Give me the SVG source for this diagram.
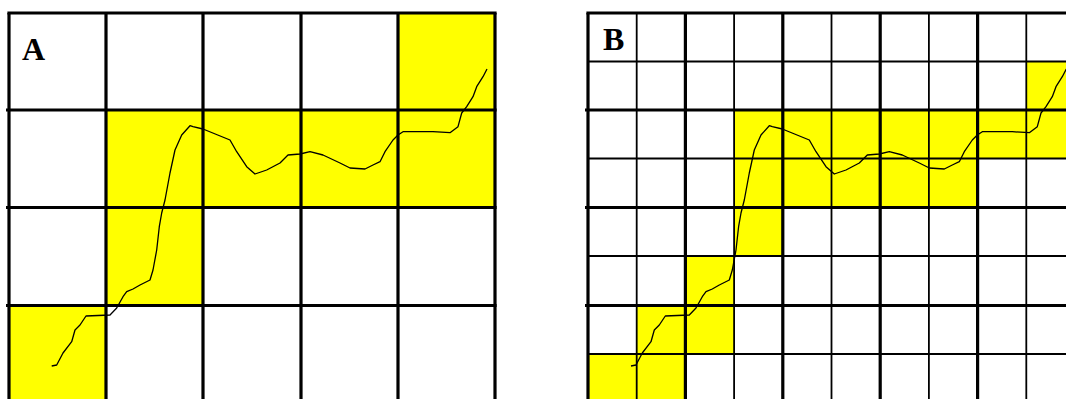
<svg xmlns="http://www.w3.org/2000/svg" xmlns:xlink="http://www.w3.org/1999/xlink" width="1066" height="399" viewBox="0 0 1066 399">
<style>
.y{fill:#FFFF00}
.thick{stroke:#000;stroke-width:3.2;fill:none}
.thin{stroke:#000;stroke-width:1.8;fill:none}
.curve{stroke:#000;stroke-width:1.3;fill:none;stroke-linejoin:round}
.lbl{font-family:"Liberation Serif","Times New Roman",serif;font-weight:bold;font-size:32px;fill:#000}
</style>
<defs>
<path id="curve" class="curve" d="M51.7,366 L56.7,365 L63,353 L71.7,341.7 L75,330 L80,325 L86,316 L110,315 L116.7,308 L123,296.7 L126.7,291.7 L133,289 L140,285 L150,280 L153,270 L156.7,250 L159.3,226.7 L161.7,213 L165,200 L170,173 L175,150 L181.7,135 L190,125.7 L193,126.7 L203,129 L230,140 L236.7,151.7 L246.7,166.7 L255,174 L266.7,170 L280,163 L288,155 L300,154 L310,151.7 L323,155 L340,163 L350,168 L365,169 L373,165 L380,161.7 L385,151.7 L393,140 L398,135 L403,131.7 L433,131.7 L450,132.7 L458,126.7 L461.7,113 L466.7,106.7 L473,96.7 L476.7,86.7 L483,76.7 L487,69"/>
</defs>
<rect width="1066" height="399" fill="#fff"/>
<g id="panel-a">
<g id="a-fills">
<rect class="y" x="398" y="13" width="97" height="97"/>
<rect class="y" x="106" y="110" width="389" height="97.5"/>
<rect class="y" x="106" y="207.5" width="97" height="98"/>
<rect class="y" x="9" y="305.5" width="97" height="100"/>
</g>
<use xlink:href="#curve"/>
<g id="a-grid" class="thick">
<line x1="9" y1="13" x2="9" y2="405"/>
<line x1="106" y1="13" x2="106" y2="405"/>
<line x1="203" y1="13" x2="203" y2="405"/>
<line x1="301" y1="13" x2="301" y2="405"/>
<line x1="398" y1="13" x2="398" y2="405"/>
<line x1="495" y1="13" x2="495" y2="405"/>
<line x1="7.4" y1="13" x2="496.6" y2="13"/>
<line x1="6" y1="110" x2="496.6" y2="110"/>
<line x1="6" y1="207.5" x2="496.6" y2="207.5"/>
<line x1="6" y1="305.5" x2="496.6" y2="305.5"/>
</g>
<text class="lbl" x="22" y="60">A</text>
</g>
<g id="panel-b">
<g id="b-fills">
<rect class="y" x="1026.3" y="61.5" width="50" height="48.5"/>
<rect class="y" x="734.1" y="110" width="342" height="48.5"/>
<rect class="y" x="734.1" y="158.5" width="243.5" height="49"/>
<rect class="y" x="734.1" y="207.5" width="48.7" height="48.5"/>
<rect class="y" x="685.4" y="256" width="48.7" height="49.5"/>
<rect class="y" x="636.7" y="305.5" width="97.4" height="48.5"/>
<rect class="y" x="588" y="354" width="97.4" height="50"/>
</g>
<use xlink:href="#curve" transform="translate(579.3,0)"/>
<g id="b-grid-thin" class="thin">
<line x1="636.7" y1="13" x2="636.7" y2="405"/>
<line x1="734.1" y1="13" x2="734.1" y2="405"/>
<line x1="831.5" y1="13" x2="831.5" y2="405"/>
<line x1="928.9" y1="13" x2="928.9" y2="405"/>
<line x1="1026.3" y1="13" x2="1026.3" y2="405"/>
<line x1="588" y1="61.5" x2="1076" y2="61.5"/>
<line x1="588" y1="158.5" x2="1076" y2="158.5"/>
<line x1="588" y1="256" x2="1076" y2="256"/>
<line x1="588" y1="354" x2="1076" y2="354"/>
</g>
<g id="b-grid-thick" class="thick">
<line x1="588" y1="13" x2="588" y2="405"/>
<line x1="685.4" y1="13" x2="685.4" y2="405"/>
<line x1="782.8" y1="13" x2="782.8" y2="405"/>
<line x1="880.2" y1="13" x2="880.2" y2="405"/>
<line x1="977.6" y1="13" x2="977.6" y2="405"/>
<line x1="586.4" y1="13" x2="1076" y2="13"/>
<line x1="585" y1="110" x2="1076" y2="110"/>
<line x1="585" y1="207.5" x2="1076" y2="207.5"/>
<line x1="585" y1="305.5" x2="1076" y2="305.5"/>
</g>
<text class="lbl" x="603" y="50">B</text>
</g>
</svg>
